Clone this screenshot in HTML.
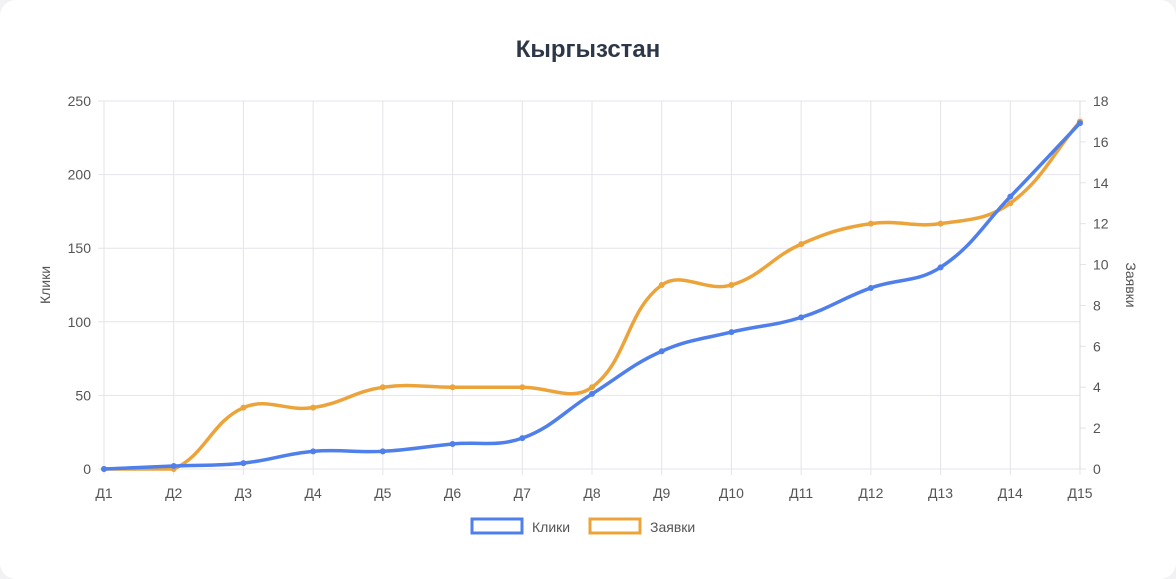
<!DOCTYPE html>
<html><head><meta charset="utf-8"><style>
html,body{margin:0;padding:0;background:#f2f2f4;}
.card{position:absolute;left:0;top:0;width:1176px;height:579px;background:#fff;border-radius:16px;}
svg{position:absolute;left:0;top:0;font-family:"Liberation Sans",sans-serif;}
</style></head><body>
<div class="card"></div>
<svg id="s" width="1176" height="579" xmlns="http://www.w3.org/2000/svg">
<text x="588" y="57" text-anchor="middle" font-size="24" font-weight="bold" fill="#2d3748">Кыргызстан</text>
<g id="grid"></g>
<text transform="translate(50,285) rotate(-90)" text-anchor="middle" font-size="14" fill="#555">Клики</text>
<text transform="translate(1126,285) rotate(90)" text-anchor="middle" font-size="14" fill="#555">Заявки</text>
<g id="series"></g>
<rect x="472" y="519" width="50" height="14" fill="#fff" stroke="#4f7fea" stroke-width="3"/>
<text x="532" y="532" font-size="14" fill="#555">Клики</text>
<rect x="590" y="519" width="50" height="14" fill="#fff" stroke="#eca43a" stroke-width="3"/>
<text x="650" y="532" font-size="14" fill="#555">Заявки</text>
</svg>
<script>
var L=104,R=1080,T=101,B=469,ns="http://www.w3.org/2000/svg";
var g=document.getElementById('grid'),sr=document.getElementById('series');
function el(p,tag,a,t){var e=document.createElementNS(ns,tag);for(var k in a)e.setAttribute(k,a[k]);if(t!==undefined)e.textContent=t;p.appendChild(e);return e;}
var step=(R-L)/14;
for(var i=0;i<15;i++){var x=L+i*step;el(g,'line',{x1:x,x2:x,y1:T,y2:B+6,stroke:'#e4e4e8','stroke-width':1});
el(g,'text',{x:x,y:B+29,'text-anchor':'middle','font-size':14,fill:'#555'},'Д'+(i+1));}
for(var j=0;j<=5;j++){var y=B-j*(B-T)/5;el(g,'line',{x1:L-6,x2:R,y1:y,y2:y,stroke:'#e4e4ec','stroke-width':1});
el(g,'text',{x:L-13,y:y+5,'text-anchor':'end','font-size':14,fill:'#555'},String(j*50));}
for(var j=0;j<=9;j++){var y=B-j*(B-T)/9;el(g,'line',{x1:R,x2:R+6,y1:y,y2:y,stroke:'#e4e4e8'});
el(g,'text',{x:R+13,y:y+5,'font-size':14,fill:'#555'},String(j*2));}
el(g,'line',{x1:R,x2:R,y1:T,y2:B,stroke:'#d8d8dc'});
function draw(d,max,col){
 var p=d.map(function(v,i){return [L+i*step,B-v/max*(B-T)];});
 var t=0.4,s='M'+p[0][0]+','+p[0][1];
 var cps=p.map(function(c,i){var a=p[Math.max(i-1,0)],b=p[Math.min(i+1,p.length-1)];
  var d01=Math.hypot(c[0]-a[0],c[1]-a[1]),d12=Math.hypot(b[0]-c[0],b[1]-c[1]);
  var fa=d01/(d01+d12||1),fb=d12/(d01+d12||1);fa=isNaN(fa)?0:t*fa;fb=isNaN(fb)?0:t*fb;
  return [[c[0]-fa*(b[0]-a[0]),c[1]-fa*(b[1]-a[1])],[c[0]+fb*(b[0]-a[0]),c[1]+fb*(b[1]-a[1])]];});
 for(var i=1;i<p.length;i++){var c1=cps[i-1][1],c2=cps[i][0];
  c1[1]=Math.min(Math.max(c1[1],T),B);c2[1]=Math.min(Math.max(c2[1],T),B);
  s+=' C'+c1[0]+','+c1[1]+' '+c2[0]+','+c2[1]+' '+p[i][0]+','+p[i][1];}
 el(sr,'path',{d:s,fill:'none',stroke:col,'stroke-width':3.5});
 p.forEach(function(c){el(sr,'circle',{cx:c[0],cy:c[1],r:2.5,fill:col,stroke:col});});
}
draw([0,0,3,3,4,4,4,4,9,9,11,12,12,13,17],18,'#eca43a');
draw([0,2,4,12,12,17,21,51,80,93,103,123,137,185,235],250,'#4f7fea');
</script>
</body></html>
